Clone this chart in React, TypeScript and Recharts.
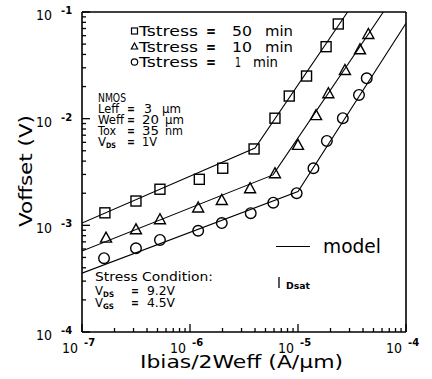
import React from 'react';
import { ComposedChart, Line, Scatter, XAxis, YAxis, ReferenceLine } from 'recharts';

// ---- data ----
const sq50X = [1.63e-7, 3.16e-7, 5.27e-7, 1.22e-6, 2.01e-6, 3.92e-6, 6.12e-6, 8.3e-6, 1.2e-5, 1.82e-5, 2.36e-5];
const sq50Y = [1.31e-3, 1.69e-3, 2.18e-3, 2.7e-3, 3.43e-3, 5.2e-3, 1.01e-2, 1.63e-2, 2.51e-2, 4.73e-2, 7.72e-2];

const tri10X = [1.67e-7, 3.16e-7, 5.27e-7, 1.19e-6, 1.97e-6, 3.6e-6, 6.12e-6, 1.0e-5, 1.47e-5, 1.91e-5, 2.72e-5, 3.75e-5, 4.48e-5];
const tri10Y = [7.67e-4, 9.18e-4, 1.14e-3, 1.47e-3, 1.73e-3, 2.23e-3, 3.08e-3, 5.68e-3, 1.08e-2, 1.73e-2, 2.86e-2, 4.47e-2, 6.22e-2];

const cir1X = [1.6e-7, 3.16e-7, 5.27e-7, 1.19e-6, 1.97e-6, 3.65e-6, 5.9e-6, 9.72e-6, 1.39e-5, 1.85e-5, 2.6e-5, 3.67e-5, 4.33e-5];
const cir1Y = [4.92e-4, 6.1e-4, 7.3e-4, 8.9e-4, 1.05e-3, 1.3e-3, 1.63e-3, 2.0e-3, 3.43e-3, 6.18e-3, 1.01e-2, 1.67e-2, 2.39e-2];

const modelSqX = [1e-7, 4.0e-6, 2.88e-5];
const modelSqY = [1.05e-3, 5.31e-3, 1e-1];
const modelTriX = [1e-7, 5.87e-6, 6.17e-5];
const modelTriY = [5.75e-4, 2.97e-3, 1e-1];
const modelCirX = [1e-7, 1e-5, 1e-4];
const modelCirY = [3.56e-4, 2.07e-3, 7.83e-2];

const xDecades = [1e-7, 1e-6, 1e-5, 1e-4];
const xExponents = ['-7', '-6', '-5', '-4'];
const yDecades = [1e-4, 1e-3, 1e-2, 1e-1];
const yExponents = ['-4', '-3', '-2', '-1'];
const minorMultipliers = [2, 3, 4, 5, 6, 7, 8, 9];

const legendValues = ['50', '10', '1'];

// ---- helpers ----
const toPts = (xs: number[], ys: number[]) => xs.map((x, i) => ({ x, y: ys[i] }));
const buildTicks = (decades: number[]) => {
  const t: number[] = [];
  decades.forEach((d, i) => {
    t.push(d);
    if (i < decades.length - 1) minorMultipliers.forEach((m) => t.push(d * m));
  });
  return t;
};
const xTicks = buildTicks(xDecades);
const yTicks = buildTicks(yDecades);
const decIndex = (arr: number[], v: number) => arr.findIndex((d) => Math.abs(v / d - 1) < 1e-6);

const FONT = 'DejaVu Sans';
const AXIS_X = 82;
const AXIS_Y = 332;

const XTick = (props: any) => {
  const { x, payload } = props;
  const y = AXIS_Y;
  const i = decIndex(xDecades, payload.value);
  const major = i >= 0;
  return (
    <g>
      <line x1={x} x2={x} y1={y} y2={y - (major ? 8 : 4)} stroke="#000" strokeWidth={1.3} />
      {major && (
        <g fontFamily={FONT} fill="#000">
          <text x={x - 20} y={y + 21} fontSize={14.5} textLength={16} lengthAdjust="spacingAndGlyphs">10</text>
          <text x={x + 2} y={y + 14} fontSize={10} fontWeight="bold">{xExponents[i]}</text>
        </g>
      )}
    </g>
  );
};

const YTick = (props: any) => {
  const { y, payload } = props;
  const x = AXIS_X;
  const i = decIndex(yDecades, payload.value);
  const major = i >= 0;
  return (
    <g>
      <line x1={x} x2={x + (major ? 8 : 4)} y1={y} y2={y} stroke="#000" strokeWidth={1.3} />
      {major && (
        <g fontFamily={FONT} fill="#000">
          <text x={x - 46} y={y + 8} fontSize={14.5} textLength={16} lengthAdjust="spacingAndGlyphs">10</text>
          <text x={x - 21} y={y + 2} fontSize={10} fontWeight="bold">{yExponents[i]}</text>
        </g>
      )}
    </g>
  );
};

const SquareShape = (p: any) => (
  <rect x={p.cx - 5} y={p.cy - 5} width={10} height={10} fill="none" stroke="#000" strokeWidth={1.4} />
);
const TriangleShape = (p: any) => (
  <polygon
    points={`${p.cx},${p.cy - 5.5} ${p.cx - 5.5},${p.cy + 4.5} ${p.cx + 5.5},${p.cy + 4.5}`}
    fill="none"
    stroke="#000"
    strokeWidth={1.4}
  />
);
const CircleShape = (p: any) => (
  <circle cx={p.cx} cy={p.cy} r={5.3} fill="none" stroke="#000" strokeWidth={1.4} />
);

// one text line composed of positioned pieces: [x, text, width, bold?, dy?, size?]
type Piece = [number, string, number, boolean?, number?, number?];
const Row = ({ y, size = 12.5, pieces }: { y: number; size?: number; pieces: Piece[] }) => (
  <text y={y} fontSize={size} fontFamily={FONT} fill="#000">
    {pieces.map(([px, s, w, b, dy, fs], k) => (
      <tspan
        key={k}
        x={px}
        y={y + (dy || 0)}
        fontWeight={b ? 'bold' : undefined}
        fontSize={fs}
        textLength={w}
        lengthAdjust="spacingAndGlyphs"
      >
        {s}
      </tspan>
    ))}
  </text>
);

export default function App() {
  const legendRows = [31, 46.5, 62];
  const dev = [97, 108, 119, 130, 141];
  return (
    <div style={{ position: 'absolute', left: 0, top: 0, width: 432, height: 379, background: '#fff' }}>
      <ComposedChart width={432} height={379} margin={{ top: 12, right: 26, bottom: 17, left: 22 }}>
        <XAxis
          type="number"
          dataKey="x"
          scale="log"
          domain={[1e-7, 1e-4]}
          allowDataOverflow
          ticks={xTicks}
          interval={0}
          height={30}
          tickSize={0}
          tickMargin={0}
          tickLine={false}
          tick={<XTick />}
          axisLine={{ stroke: '#000', strokeWidth: 1.6 }}
        />
        <YAxis
          type="number"
          dataKey="y"
          scale="log"
          domain={[1e-4, 1e-1]}
          allowDataOverflow
          ticks={yTicks}
          interval={0}
          width={60}
          tickSize={0}
          tickMargin={0}
          tickLine={false}
          tick={<YTick />}
          axisLine={{ stroke: '#000', strokeWidth: 1.6 }}
        />
        <ReferenceLine y={1e-1} stroke="#000" strokeWidth={1.6} />
        <ReferenceLine x={1e-4} stroke="#000" strokeWidth={1.6} />
        <Line data={toPts(modelSqX, modelSqY)} dataKey="y" type="linear" stroke="#000" strokeWidth={1.1} dot={false} isAnimationActive={false} />
        <Line data={toPts(modelTriX, modelTriY)} dataKey="y" type="linear" stroke="#000" strokeWidth={1.1} dot={false} isAnimationActive={false} />
        <Line data={toPts(modelCirX, modelCirY)} dataKey="y" type="linear" stroke="#000" strokeWidth={1.1} dot={false} isAnimationActive={false} />
        <Scatter data={toPts(sq50X, sq50Y)} shape={<SquareShape />} isAnimationActive={false} />
        <Scatter data={toPts(tri10X, tri10Y)} shape={<TriangleShape />} isAnimationActive={false} />
        <Scatter data={toPts(cir1X, cir1Y)} shape={<CircleShape />} isAnimationActive={false} />
      </ComposedChart>
      <svg width={432} height={379} style={{ position: 'absolute', left: 0, top: 0, pointerEvents: 'none' }}>
        {/* legend */}
        <rect x={131.5} y={legendRows[0] - 3} width={6} height={6} fill="none" stroke="#000" strokeWidth={1.2} />
        <polygon points={`134.5,${legendRows[1] - 3.5} 131.3,${legendRows[1] + 2.5} 137.7,${legendRows[1] + 2.5}`} fill="none" stroke="#000" strokeWidth={1.2} />
        <circle cx={134.5} cy={legendRows[2]} r={3.2} fill="none" stroke="#000" strokeWidth={1.2} />
        {legendRows.map((ry, i) => (
          <Row
            key={i}
            y={ry + 5}
            size={13.5}
            pieces={
              i < 2
                ? [[139, 'Tstress', 59], [206, '=', 10, true], [232, legendValues[i], 20], [265, 'min', 28]]
                : [[139, 'Tstress', 59], [206, '=', 10, true], [235, legendValues[i], 6], [253, 'min', 25]]
            }
          />
        ))}
        {/* device block */}
        <Row y={dev[0] + 5} pieces={[[98, 'NMOS', 28]]} />
        <Row y={dev[1] + 5} pieces={[[98, 'Leff', 21], [127, '=', 8, true], [144, '3', 8], [162, 'µm', 19]]} />
        <Row y={dev[2] + 5} pieces={[[98, 'Weff', 26], [127, '=', 8, true], [142, '20', 17], [165, 'µm', 19]]} />
        <Row y={dev[3] + 5} pieces={[[98, 'Tox', 18], [127, '=', 8, true], [142, '35', 17], [165, 'nm', 18]]} />
        <Row y={dev[4] + 5} pieces={[[98, 'V', 8], [106, 'DS', 10, true, 2, 7.5], [127, '=', 8, true], [142, '1V', 15]]} />
        {/* stress block */}
        <Row y={281} pieces={[[95, 'Stress  Condition:', 118]]} />
        <Row y={295} pieces={[[95, 'V', 8], [103, 'DS', 11, true, 2, 7.5], [131, '=', 8, true], [147, '9.2V', 28]]} />
        <Row y={307} pieces={[[95, 'V', 8], [103, 'GS', 11, true, 2, 7.5], [131, '=', 8, true], [147, '4.5V', 28]]} />
        {/* model legend */}
        <line x1={276} x2={310} y1={246.5} y2={246.5} stroke="#000" strokeWidth={1.2} />
        <Row y={253} size={19} pieces={[[323, 'model', 58]]} />
        <line x1={279} x2={279} y1={277} y2={288} stroke="#000" strokeWidth={1.3} />
        <Row y={289} size={8.5} pieces={[[286, 'Dsat', 24, true]]} />
        {/* axis titles */}
        <Row y={368} size={17} pieces={[[140, 'Ibias/2Weff  (A/µm)', 203]]} />
        <text
          transform="translate(32,171) rotate(-90)"
          textAnchor="middle"
          fontSize={17}
          fontFamily={FONT}
          fill="#000"
          textLength={112}
          lengthAdjust="spacingAndGlyphs"
        >
          Voffset  (V)
        </text>
      </svg>
    </div>
  );
}
